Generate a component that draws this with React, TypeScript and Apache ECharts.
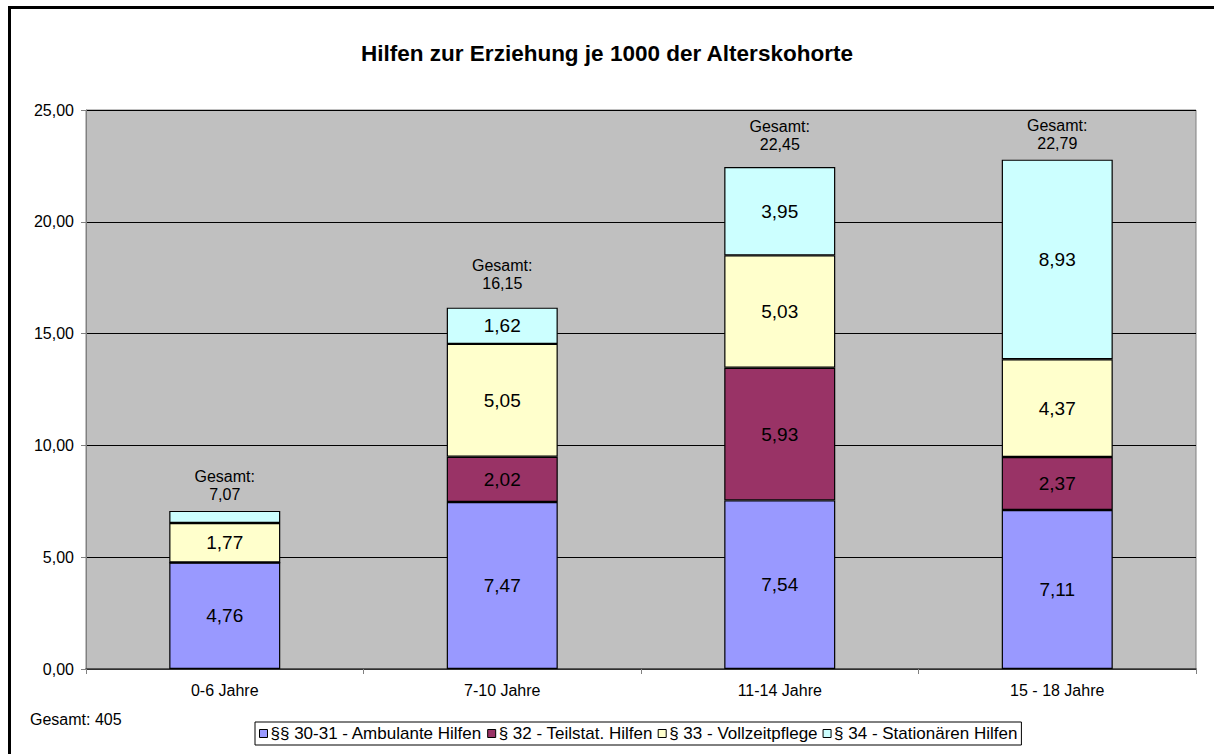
import React, { useEffect, useRef } from "react";
import * as echarts from "echarts";

const categories = ["0-6 Jahre", "7-10 Jahre", "11-14 Jahre", "15 - 18 Jahre"];
const ambulant = [4.76, 7.47, 7.54, 7.11];
const teilstat = [0, 2.02, 5.93, 2.37];
const vollzeit = [1.77, 5.05, 5.03, 4.37];
const stationaer = [0.54, 1.62, 3.95, 8.93];
const totals = [7.07, 16.15, 22.45, 22.79];
const seriesNames = [
  "§§ 30-31 - Ambulante Hilfen",
  "§ 32 - Teilstat. Hilfen",
  "§ 33 - Vollzeitpflege",
  "§ 34 - Stationären Hilfen",
];
const colors = ["#9999FF", "#993366", "#FFFFCC", "#CCFFFF"];
const titleText = "Hilfen zur Erziehung je 1000 der Alterskohorte";
const footnote = "Gesamt: 405";

const fmt = (v: number) => v.toFixed(2).replace(".", ",");
const FONT = "'Liberation Sans', Arial, sans-serif";
// label gap above each bar (styling, as placed in the original)
const totalLabelGap = [7, 15, 14, 7];

export default function App() {
  const ref = useRef<HTMLDivElement>(null);
  useEffect(() => {
    if (!ref.current) return;
    const chart = echarts.init(ref.current, null, { renderer: "svg" });
    const data = [ambulant, teilstat, vollzeit, stationaer];
    const series: any[] = data.map((d, i) => ({
      name: seriesNames[i],
      type: "bar",
      stack: "total",
      barWidth: "40%",
      data: d,
      itemStyle: { color: colors[i], borderColor: "#000", borderWidth: 1.2 },
      label: {
        show: true,
        position: "inside",
        color: "#000",
        fontSize: 19,
        fontFamily: FONT,
        formatter: (p: any) => (p.value >= 1 ? fmt(p.value) : ""),
      },
    }));
    series.push({
      name: "Gesamt",
      type: "bar",
      stack: "total",
      barWidth: "40%",
      data: totals.map((_, i) => ({ value: 0, label: { distance: totalLabelGap[i] } })),
      itemStyle: { color: "transparent", borderWidth: 0 },
      label: {
        show: true,
        position: "top",
        distance: 13,
        color: "#000",
        fontSize: 16,
        lineHeight: 18,
        fontFamily: FONT,
        formatter: (p: any) => "Gesamt:\n" + fmt(totals[p.dataIndex]),
      },
    });
    chart.setOption({
      animation: false,
      textStyle: { fontFamily: FONT },
      title: {
        text: titleText,
        left: "center",
        top: 37,
        textStyle: { fontSize: 22.5, fontWeight: "bold", color: "#000", fontFamily: FONT },
      },
      grid: {
        left: 86,
        right: 18,
        top: 110,
        bottom: 85,
        show: true,
        backgroundColor: "#C0C0C0",
        borderColor: "#808080",
        borderWidth: 1,
      },
      legend: {
        data: seriesNames,
        left: 255,
        top: 722,
        padding: [3, 4, 3, 4],
        borderColor: "#000",
        borderWidth: 1,
        backgroundColor: "#fff",
        itemWidth: 8,
        itemHeight: 8,
        itemGap: 5,
        icon: "rect",
        itemStyle: { borderColor: "#000", borderWidth: 1 },
        textStyle: { fontSize: 17, color: "#000", fontFamily: FONT, padding: [0, 0, 0, -2] },
      },
      xAxis: {
        type: "category",
        data: categories,
        axisLine: { lineStyle: { color: "#404040", width: 1.5 } },
        axisTick: { show: true, length: 5, lineStyle: { color: "#808080" } },
        axisLabel: { color: "#000", fontSize: 16, margin: 13, fontFamily: FONT },
      },
      yAxis: {
        type: "value",
        min: 0,
        max: 25,
        interval: 5,
        axisLine: { show: true, lineStyle: { color: "#808080" } },
        axisTick: { show: true, length: 5, lineStyle: { color: "#808080" } },
        axisLabel: { color: "#000", fontSize: 16, margin: 12, fontFamily: FONT, formatter: (v: number) => fmt(v) },
        splitLine: { show: true, lineStyle: { color: "#000", width: 1 } },
      },
      graphic: [
        {
          type: "rect",
          shape: { x: 9.5, y: 7.5, width: 1400, height: 1000 },
          style: { fill: "none", stroke: "#000", lineWidth: 3 },
          silent: true,
        },
        {
          type: "text",
          left: 30,
          top: 711,
          style: { text: footnote, fontSize: 16, fill: "#000", fontFamily: FONT },
        },
      ],
      series,
    });
    return () => chart.dispose();
  }, []);
  return (
    <div
      ref={ref}
      style={{ position: "fixed", left: 0, top: 0, width: 1214, height: 754, background: "#fff" }}
    />
  );
}
